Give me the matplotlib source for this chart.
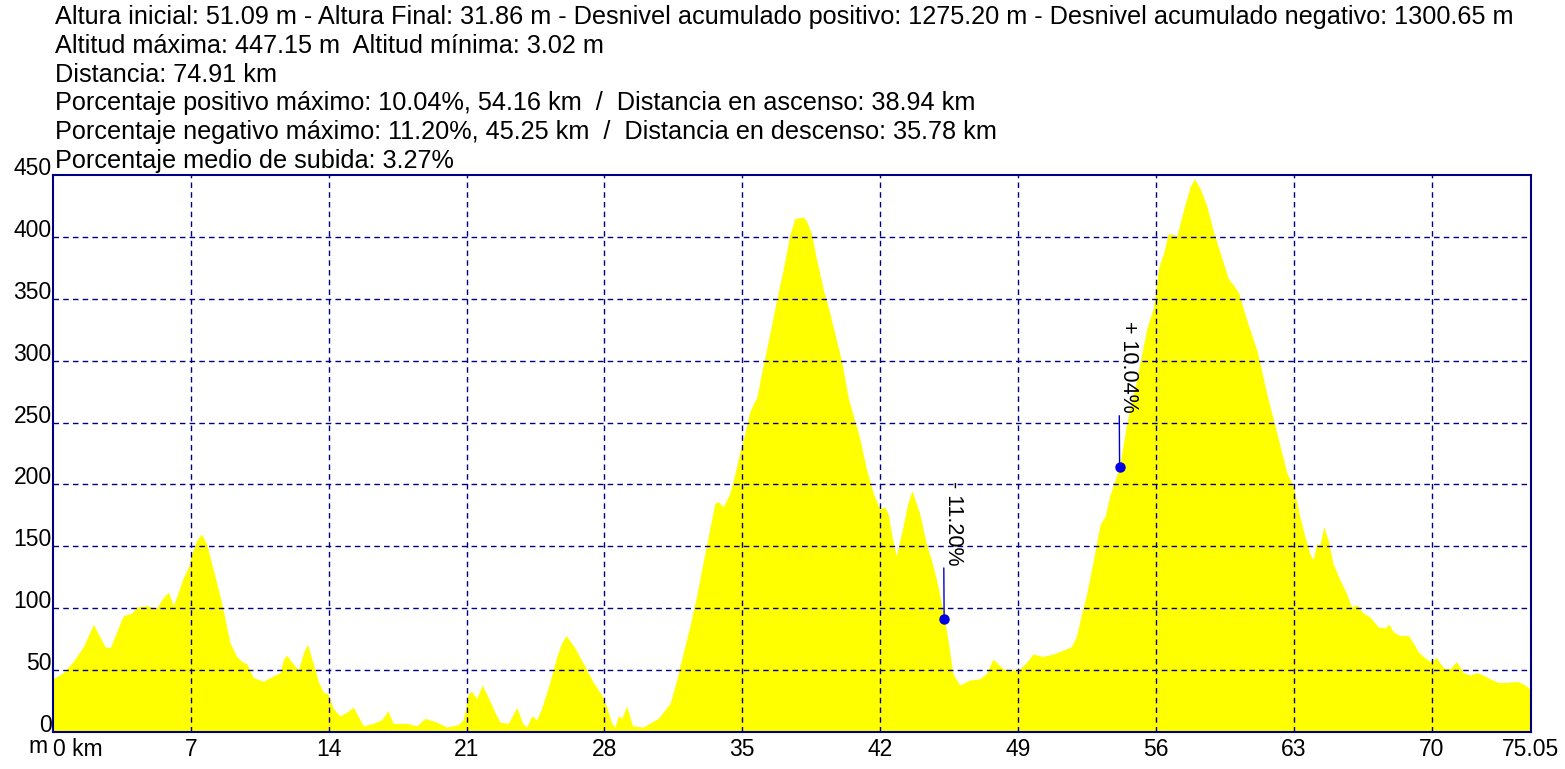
import matplotlib
matplotlib.use("Agg")
import matplotlib.pyplot as plt

plt.rcParams['font.family'] = ['Liberation Sans', 'DejaVu Sans']

# ---- data ----
km = [0, 0.52, 1.03, 1.54, 2.05, 2.64, 2.9, 3.23, 3.57, 4.0, 4.25, 4.76, 5.27, 5.52, 5.86,
      6.11, 6.36, 6.62, 6.87, 7.04, 7.3, 7.55, 7.8, 8.14, 8.57, 8.99, 9.33, 9.58, 9.84, 10.17,
      10.68, 11.02, 11.53, 11.7, 11.87, 12.2, 12.46, 12.71, 12.92, 13.22, 13.47, 13.73, 13.95,
      14.23, 14.57, 14.9, 15.25, 15.76, 16.26, 16.69, 17.0, 17.28, 17.96, 18.47, 18.89, 19.48,
      19.99, 20.58, 20.83, 21.09, 21.26, 21.51, 21.8, 22.1, 22.44, 22.7, 23.12, 23.55, 23.85,
      24.05, 24.31, 24.56, 24.81, 25.15, 25.58, 25.83, 26.05, 26.5, 27.01, 27.44, 27.86, 28.12,
      28.37, 28.54, 28.7, 28.88, 29.13, 29.43, 29.97, 30.4, 30.74, 31.08, 31.33, 31.67, 32.0,
      32.35, 32.68, 33.02, 33.36, 33.61, 33.78, 34.04, 34.37, 34.63, 34.88, 35.14, 35.39, 35.56,
      35.73, 36.07, 36.4, 36.74, 37.08, 37.42, 37.67, 38.1, 38.26, 38.52, 38.77, 39.11, 39.45,
      39.79, 40.04, 40.38, 40.63, 40.97, 41.31, 41.65, 41.98, 42.24, 42.41, 42.58, 42.82, 43.16,
      43.41, 43.62, 44.0, 44.35, 44.6, 44.85, 45.19, 45.45, 45.7, 46.04, 46.55, 47.05, 47.39,
      47.73, 48.24, 48.75, 49.08, 49.42, 49.76, 50.27, 50.78, 51.28, 51.71, 51.96, 52.22, 52.49,
      52.83, 53.17, 53.42, 53.68, 54.15, 54.53, 55.03, 55.54, 55.88, 56.14, 56.39, 56.64, 57.07,
      57.41, 57.75, 57.97, 58.25, 58.59, 58.93, 59.27, 59.69, 59.95, 60.2, 60.63, 61.14, 61.64,
      62.15, 62.66, 63.0, 63.31, 63.57, 63.82, 63.99, 64.16, 64.33, 64.53, 64.75, 65.0, 65.35,
      65.68, 65.94, 66.19, 66.53, 66.87, 67.29, 67.63, 67.85, 68.05, 68.39, 68.82, 69.07, 69.32,
      69.66, 69.92, 70.25, 70.59, 70.93, 71.27, 71.61, 71.95, 72.29, 72.63, 72.96, 73.39, 73.81,
      74.32, 74.65, 74.91, 75.05]
elev = [43, 48, 57, 69, 87, 69, 68, 81, 94, 96, 101, 102, 100, 107, 113,
        102, 113, 125, 133, 144, 155, 160, 152, 131, 104, 72, 61, 57, 55, 44,
        41, 44, 48, 59, 62, 55, 50, 64, 71, 55, 41, 32, 31,
        19, 13, 16, 20, 5, 7, 10, 17, 7, 7, 5, 11, 8,
        4, 6, 10, 31, 33, 27, 38, 28, 16, 8, 7, 20, 7,
        4, 13, 10, 19, 36, 61, 72, 78, 68, 53, 40, 30, 20,
        7, 4, 13, 11, 21, 5, 4, 8, 11, 18, 23, 42, 64,
        86, 110, 138, 165, 185, 186, 182, 193, 209, 226, 242, 259, 265,
        270, 297, 322, 349, 374, 402, 415, 416, 413, 402, 382, 358, 338,
        316, 300, 270, 256, 237, 212, 193, 180, 182, 176, 160, 142, 166,
        185, 195, 177, 152, 139, 124, 98, 74, 47, 38, 42, 43, 47,
        59, 51, 50, 51, 56, 63, 61, 63, 66, 69, 77, 95, 112,
        139, 168, 174, 192, 214, 250, 285, 326, 343, 375, 387, 403, 401,
        422, 441, 447, 439, 425, 404, 387, 366, 361, 355, 332, 308, 273,
        241, 209, 198, 174, 158, 144, 139, 152, 151, 166, 155, 136, 123,
        112, 101, 103, 96, 93, 85, 84, 87, 81, 78, 78, 72, 65,
        60, 57, 60, 52, 51, 57, 48, 46, 48, 46, 43, 40, 40,
        41, 39, 36, 32]

x_ticks = [0, 7, 14, 21, 28, 35, 42, 49, 56, 63, 70, 75.05]
x_labels = ['0 km', '7', '14', '21', '28', '35', '42', '49', '56', '63', '70', '75.05']
y_ticks = [0, 50, 100, 150, 200, 250, 300, 350, 400, 450]

mark_km = [45.25, 54.16]
mark_elev = [91, 214]
mark_labels = ['- 11.20%', '+ 10.04%']

header = [
    "Altura inicial: 51.09 m - Altura Final: 31.86 m - Desnivel acumulado positivo: 1275.20 m - Desnivel acumulado negativo: 1300.65 m",
    "Altitud máxima: 447.15 m  Altitud mínima: 3.02 m",
    "Distancia: 74.91 km",
    "Porcentaje positivo máximo: 10.04%, 54.16 km  /  Distancia en ascenso: 38.94 km",
    "Porcentaje negativo máximo: 11.20%, 45.25 km  /  Distancia en descenso: 35.78 km",
    "Porcentaje medio de subida: 3.27%",
]

# ---- figure ----
W, H = 1565, 769
fig = plt.figure(figsize=(W / 100, H / 100), dpi=100)
ax = fig.add_axes([53 / W, (H - 732) / H, (1531 - 53) / W, (732 - 175) / H])

ax.fill_between(km, elev, 0, color='#FFFF00', linewidth=0, zorder=1)
ax.set_xlim(0, 75.05)
ax.set_ylim(0, 450)

grid_color = '#000080'
for xt in x_ticks[1:-1]:
    ax.axvline(xt, color=grid_color, lw=1, ls=(0, (4, 3)), zorder=2)
for yt in y_ticks[1:-1]:
    ax.axhline(yt, color=grid_color, lw=1, ls=(0, (4, 3)), zorder=2)

for s in ax.spines.values():
    s.set_color(grid_color)
    s.set_linewidth(1.5)
    s.set_zorder(5)

tick_fs = 16.5
ax.set_xticks(x_ticks)
ax.set_xticklabels(x_labels, fontsize=tick_fs)
ax.set_yticks(y_ticks)
ax.set_yticklabels([str(v) for v in y_ticks], fontsize=tick_fs)
ax.tick_params(axis='both', length=0, pad=1)
ax.tick_params(axis='x', pad=4)
for lab in ax.get_yticklabels():
    lab.set_verticalalignment('baseline')
xl = ax.get_xticklabels()
xl[0].set_horizontalalignment('left')

fig.text(28 / W, (H - 753) / H, 'm', fontsize=tick_fs, ha='left', va='baseline')

# annotations
for k, e, t in zip(mark_km, mark_elev, mark_labels):
    ax.annotate(t, xy=(k, e), xytext=(-1, 39), textcoords='offset points',
                rotation=270, ha='left', va='bottom', fontsize=15.5, zorder=6,
                arrowprops=dict(arrowstyle='-', color='#0000CD', lw=1,
                                shrinkA=0, shrinkB=0, relpos=(0.05, 0)))
    ax.plot([k], [e], 'o', color='#0000E0', markersize=6.5, zorder=7)

# header
for i, line in enumerate(header):
    fig.text(55 / W, (H - (24 + 28.8 * i)) / H, line, fontsize=18.2,
             ha='left', va='baseline')

fig.savefig('out.png', dpi=100, facecolor='white')
